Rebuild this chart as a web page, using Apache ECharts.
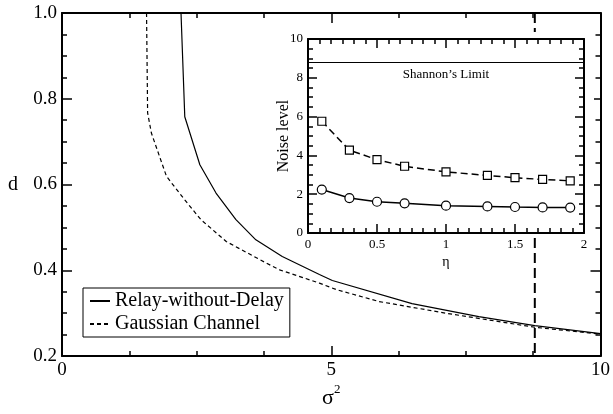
<!DOCTYPE html>
<html>
<head>
<meta charset="utf-8">
<script src="https://cdn.jsdelivr.net/npm/echarts@6/dist/echarts.min.js"></script>
<style>
  html, body { margin: 0; padding: 0; background: #fff; }
  #chart { width: 613px; height: 414px; }
</style>
</head>
<body>
<div id="chart"></div>
<script>
// main plot: d vs sigma^2
const relaySigma = [2.21, 2.28, 2.56, 2.86, 3.23, 3.60, 4.09, 4.78, 5.02, 6.50, 7.74, 8.78, 10.0];
const relayD     = [1.0, 0.758, 0.646, 0.580, 0.518, 0.471, 0.432, 0.390, 0.376, 0.322, 0.292, 0.271, 0.252];
const gaussSigma = [1.57, 1.59, 1.66, 1.94, 2.28, 2.58, 3.05, 3.79, 4.04, 4.78, 5.09, 5.89, 7.12, 8.78, 10.0];
const gaussD     = [1.0, 0.767, 0.720, 0.619, 0.564, 0.518, 0.467, 0.417, 0.401, 0.370, 0.355, 0.327, 0.300, 0.267, 0.251];
const shannonSigma = 8.78;
const dRange = [0.2, 1.0];

// inset: noise level vs eta
const eta        = [0.1, 0.3, 0.5, 0.7, 1.0, 1.3, 1.5, 1.7, 1.9];
const relayNoise = [2.24, 1.80, 1.61, 1.53, 1.41, 1.37, 1.34, 1.32, 1.31];
const gaussNoise = [5.76, 4.27, 3.78, 3.44, 3.15, 2.97, 2.85, 2.76, 2.69];
const shannonLimit = 8.78;

const FONT = 'Liberation Serif';
const inset = { left: 308, top: 39, width: 276, height: 194 };

function zip(xs, ys) {
  return xs.map((x, i) => [x, ys[i]]);
}

// one axis, ticks pointing inward; mirror axes carry no labels
function axis(grid, pos, min, max, interval, minorSplit, major, minor, fontSize, labels, fmt) {
  return {
    type: 'value',
    gridIndex: grid,
    position: pos,
    min: min,
    max: max,
    interval: interval,
    nameMoveOverlap: false,
    axisLine: { show: true, onZero: false, lineStyle: { color: '#000', width: 2 } },
    axisTick: { show: true, inside: true, length: major, lineStyle: { color: '#000', width: 1.5 } },
    minorTick: { show: true, splitNumber: minorSplit, length: minor, lineStyle: { color: '#000', width: 1.5 } },
    splitLine: { show: false },
    axisLabel: {
      show: labels,
      color: '#000',
      fontFamily: FONT,
      fontSize: fontSize,
      margin: 5,
      formatter: fmt
    }
  };
}

let myChart = echarts.init(document.getElementById('chart'));

let xMain = axis(0, 'bottom', 0, 10, 5, 4, 10, 5, 19, true, v => String(v));
xMain.name = '{s|σ}{p|2}';
xMain.nameLocation = 'middle';
xMain.nameGap = 27;
xMain.nameTextStyle = {
  color: '#000',
  rich: {
    s: { fontFamily: FONT, fontSize: 22, lineHeight: 30, color: '#000' },
    p: { fontFamily: FONT, fontSize: 13, lineHeight: 13, verticalAlign: 'top', color: '#000' }
  }
};

let yMain = axis(0, 'left', 0.2, 1.0, 0.2, 4, 10, 5, 19, true, v => v.toFixed(1));
yMain.name = 'd';
yMain.nameLocation = 'middle';
yMain.nameRotate = 0;
yMain.nameGap = 44;
yMain.nameTextStyle = { color: '#000', fontFamily: FONT, fontSize: 20 };

let xInset = axis(1, 'bottom', 0, 2, 0.5, 6, 9, 5, 13, true, v => String(v));
xInset.name = 'η';
xInset.nameLocation = 'middle';
xInset.nameGap = 22;
xInset.nameTextStyle = { color: '#000', fontFamily: FONT, fontSize: 14 };
xInset.z = 4;

let yInset = axis(1, 'left', 0, 10, 2, 4, 9, 5, 13, true, v => String(v));
yInset.name = 'Noise level';
yInset.nameLocation = 'middle';
yInset.nameGap = 16;
yInset.nameTextStyle = { color: '#000', fontFamily: FONT, fontSize: 16 };
yInset.z = 4;

let xInsetTop = axis(1, 'top', 0, 2, 0.5, 6, 9, 5, 13, false);
xInsetTop.z = 4;
let yInsetRight = axis(1, 'right', 0, 10, 2, 4, 9, 5, 13, false);
yInsetRight.z = 4;

myChart.setOption({
  animation: false,
  backgroundColor: '#fff',
  textStyle: { fontFamily: FONT },
  grid: [
    { left: 62, right: 11, top: 13, bottom: 58 },
    { left: inset.left, top: inset.top, width: inset.width, height: inset.height }
  ],
  graphic: [{
    // white panel behind the inset so the main dashed line is hidden there
    type: 'rect',
    z: 3,
    silent: true,
    shape: { x: inset.left - 30, y: inset.top - 7, width: inset.width + 40, height: inset.height + 8 },
    style: { fill: '#fff' }
  }],
  legend: {
    orient: 'vertical',
    left: 83,
    top: 288,
    data: ['Relay-without-Delay', 'Gaussian Channel'],
    itemWidth: 20,
    itemHeight: 14,
    itemGap: 1,
    padding: [2, 6, 2, 6],
    borderColor: '#000',
    borderWidth: 1,
    itemStyle: { color: 'rgba(0,0,0,0)', borderWidth: 0, opacity: 0 },
    textStyle: { fontFamily: FONT, fontSize: 20, color: '#000', lineHeight: 22 }
  },
  xAxis: [
    xMain,
    axis(0, 'top', 0, 10, 5, 4, 10, 5, 19, false),
    xInset,
    xInsetTop
  ],
  yAxis: [
    yMain,
    axis(0, 'right', 0.2, 1.0, 0.2, 4, 10, 5, 19, false),
    yInset,
    yInsetRight
  ],
  series: [
    {
      name: 'Relay-without-Delay',
      type: 'line',
      xAxisIndex: 0,
      yAxisIndex: 0,
      symbol: 'none',
      data: zip(relaySigma, relayD),
      lineStyle: { color: '#000', width: 1.2, type: 'solid' },
      itemStyle: { color: '#000' }
    },
    {
      name: 'Gaussian Channel',
      type: 'line',
      xAxisIndex: 0,
      yAxisIndex: 0,
      symbol: 'none',
      data: zip(gaussSigma, gaussD),
      lineStyle: { color: '#000', width: 1.2, type: [4, 3] },
      itemStyle: { color: '#000' }
    },
    {
      // vertical dashed line at the Shannon limit
      name: 'shannon sigma',
      type: 'line',
      xAxisIndex: 0,
      yAxisIndex: 0,
      z: 2,
      symbol: 'none',
      silent: true,
      data: [[shannonSigma, dRange[1]], [shannonSigma, dRange[0]]],
      lineStyle: { color: '#000', width: 2, type: [10, 5] }
    },
    {
      name: 'inset relay',
      type: 'line',
      xAxisIndex: 2,
      yAxisIndex: 2,
      z: 5,
      symbol: 'circle',
      symbolSize: 9,
      data: zip(eta, relayNoise),
      lineStyle: { color: '#000', width: 1.5 },
      itemStyle: { color: '#fff', borderColor: '#000', borderWidth: 1.2 },
      markLine: {
        silent: true,
        symbol: 'none',
        lineStyle: { color: '#000', width: 1.2, type: 'solid' },
        label: {
          show: true,
          position: 'insideMiddleBottom',
          formatter: 'Shannon\u2019s Limit',
          color: '#000',
          fontFamily: FONT,
          fontSize: 13,
          distance: 5
        },
        data: [{ yAxis: shannonLimit }]
      }
    },
    {
      name: 'inset gaussian',
      type: 'line',
      xAxisIndex: 2,
      yAxisIndex: 2,
      z: 5,
      symbol: 'rect',
      symbolSize: 8,
      data: zip(eta, gaussNoise),
      lineStyle: { color: '#000', width: 1.5, type: [7, 4] },
      itemStyle: { color: '#fff', borderColor: '#000', borderWidth: 1.2 }
    }
  ]
});
</script>
</body>
</html>
